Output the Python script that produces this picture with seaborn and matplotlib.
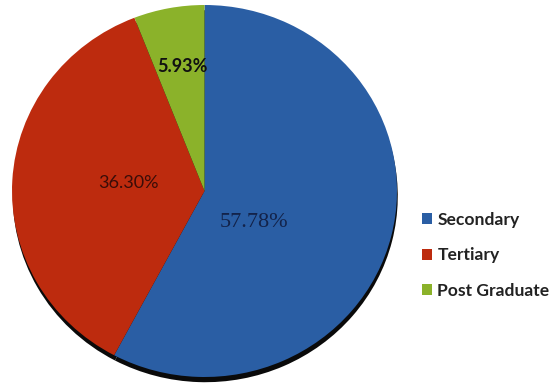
import matplotlib
matplotlib.use("Agg")
import matplotlib.pyplot as plt
import seaborn as sns
import numpy as np

categories = ["Secondary", "Tertiary", "Post Graduate"]
values = [57.78, 36.30, 5.93]
labels = ["57.78%", "36.30%", "5.93%"]
colors = ["#2A5EA4", "#BD2B0E", "#8BB22A"]

sns.set_theme(style="white")
plt.rcParams['font.family'] = ['Lato', 'DejaVu Sans']

fig = plt.figure(figsize=(5.53, 3.89), dpi=100)
W, H = 553, 389
cx, cy, rx, ry = 204.5, 191, 192.5, 186
ax = fig.add_axes([(cx - rx) / W, (H - cy - ry) / H, 2 * rx / W, 2 * ry / H])

# shadow
ax.pie(values, colors=["#0a0a0a"] * 3, startangle=90, counterclock=False,
       center=(0.004, -0.028), radius=1.0, wedgeprops=dict(linewidth=0))
wedges, _ = ax.pie(values, colors=colors, startangle=90, counterclock=False,
                   radius=1.0, wedgeprops=dict(linewidth=0))
ax.set_aspect('auto')
ax.axis('off')
ax.set_xlim(-1, 1)
ax.set_ylim(-1, 1)

# label positions: (angle in degrees, radius)
label_pos = [(-33.2, 0.305), (173.8, 0.397), (99.7, 0.677)]
styles = [
    dict(family=['Liberation Serif'], fontsize=16, color="#13234A"),
    dict(family=['Lato'], fontsize=13, color="#3a0d08"),
    dict(family=['Lato'], fontsize=13, fontweight='bold', color="#111111"),
]
for lab, (ang, r), st in zip(labels, label_pos, styles):
    a = np.deg2rad(ang)
    ax.text(r * np.cos(a), r * np.sin(a), lab, ha='center', va='center', **st)

leg = fig.legend(wedges, categories, loc='upper left',
                 bbox_to_anchor=(422 / W, 1 - 212 / H), frameon=False,
                 borderaxespad=0, borderpad=0,
                 handlelength=0.58, handleheight=0.58, handletextpad=0.3,
                 labelspacing=1.1, prop=dict(family='Lato', weight='bold', size=12.6))
for t in leg.get_texts():
    t.set_color("#222222")

fig.savefig("out.png", dpi=100)
